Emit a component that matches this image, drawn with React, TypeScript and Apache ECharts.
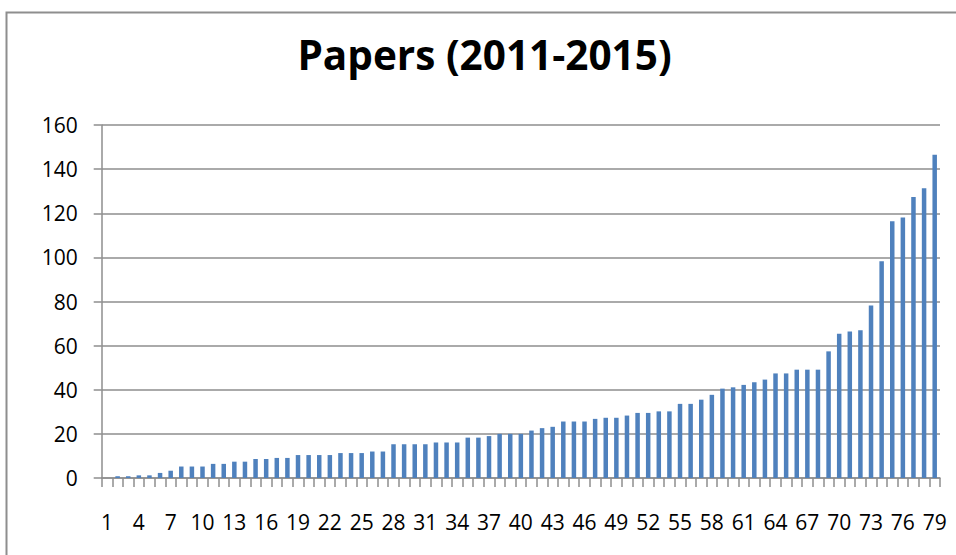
import React, { useEffect, useRef } from "react";
import * as echarts from "echarts";

const TITLE = "Papers (2011-2015)";

// Categories 1..79 (paper rank)
const categories: string[] = Array.from({ length: 79 }, (_, i) => String(i + 1));

// Number of papers per category
const papers: number[] = [
  0, 0.8, 0.8, 1.2, 1.2, 2.3, 3.3, 5.2, 5.2, 5.2,
  6.4, 6.4, 7.4, 7.4, 8.6, 8.6, 9.1, 9.1, 10.4, 10.4,
  10.4, 10.4, 11.3, 11.3, 11.3, 12, 12, 15.3, 15.3, 15.3,
  15.3, 16.1, 16.1, 16.1, 18.3, 18.3, 19, 20, 20, 20,
  21.5, 22.6, 23.2, 25.6, 25.6, 25.6, 26.8, 27.3, 27.3, 28.3,
  29.5, 29.5, 30.2, 30.2, 33.6, 33.6, 35.5, 37.7, 40.5, 41.1,
  42.2, 43.4, 44.6, 47.4, 47.4, 49.1, 49.1, 49.1, 57.4, 65.4,
  66.4, 67, 78.2, 98.3, 116.4, 118.1, 127.4, 131.3, 146.5,
];

const Y_MIN = 0;
const Y_MAX = 160;
const Y_STEP = 20;

const GRAY = "#8e8e8e";
const FONT = "'Open Sans', 'Noto Sans', sans-serif";

export default function App() {
  const ref = useRef<HTMLDivElement>(null);

  useEffect(() => {
    if (!ref.current) return;
    const chart = echarts.init(ref.current, undefined, { renderer: "svg" });
    chart.setOption({
      animation: false,
      backgroundColor: "#ffffff",
      graphic: [
        {
          type: "rect",
          shape: { x: 6.5, y: 12.5, width: 1000, height: 600 },
          style: { fill: "none", stroke: GRAY, lineWidth: 2 },
          silent: true,
        },
        {
          type: "text",
          x: 484.5,
          y: 54,
          style: {
            text: TITLE,
            fontFamily: FONT,
            fontWeight: "bold",
            fontSize: 40.5,
            fill: "#000000",
            textAlign: "center",
            textVerticalAlign: "middle",
          },
        },
      ],
      grid: { left: 101.7, right: 16, top: 125, bottom: 77, containLabel: false },
      xAxis: {
        type: "category",
        data: categories,
        boundaryGap: true,
        axisLine: { show: true, lineStyle: { color: GRAY, width: 1.5 } },
        axisTick: { show: true, interval: 0, length: 9, lineStyle: { color: GRAY, width: 1.5 } },
        axisLabel: {
          interval: 2,
          margin: 33,
          fontFamily: FONT,
          fontSize: 21,
          color: "#000000",
        },
        splitLine: { show: false },
      },
      yAxis: {
        type: "value",
        min: Y_MIN,
        max: Y_MAX,
        interval: Y_STEP,
        axisLine: { show: true, lineStyle: { color: GRAY, width: 1.5 } },
        axisTick: { show: true, length: 8, lineStyle: { color: GRAY, width: 1.5 } },
        axisLabel: {
          margin: 24,
          fontFamily: FONT,
          fontSize: 21,
          color: "#000000",
        },
        splitLine: { show: true, lineStyle: { color: GRAY, width: 1.5 } },
      },
      series: [
        {
          type: "bar",
          data: papers,
          barWidth: 4.5,
          itemStyle: { color: "#4F81BD" },
        },
      ],
    });
    return () => chart.dispose();
  }, []);

  return (
    <div
      ref={ref}
      style={{ position: "fixed", left: 0, top: 0, width: 956, height: 555 }}
    />
  );
}
